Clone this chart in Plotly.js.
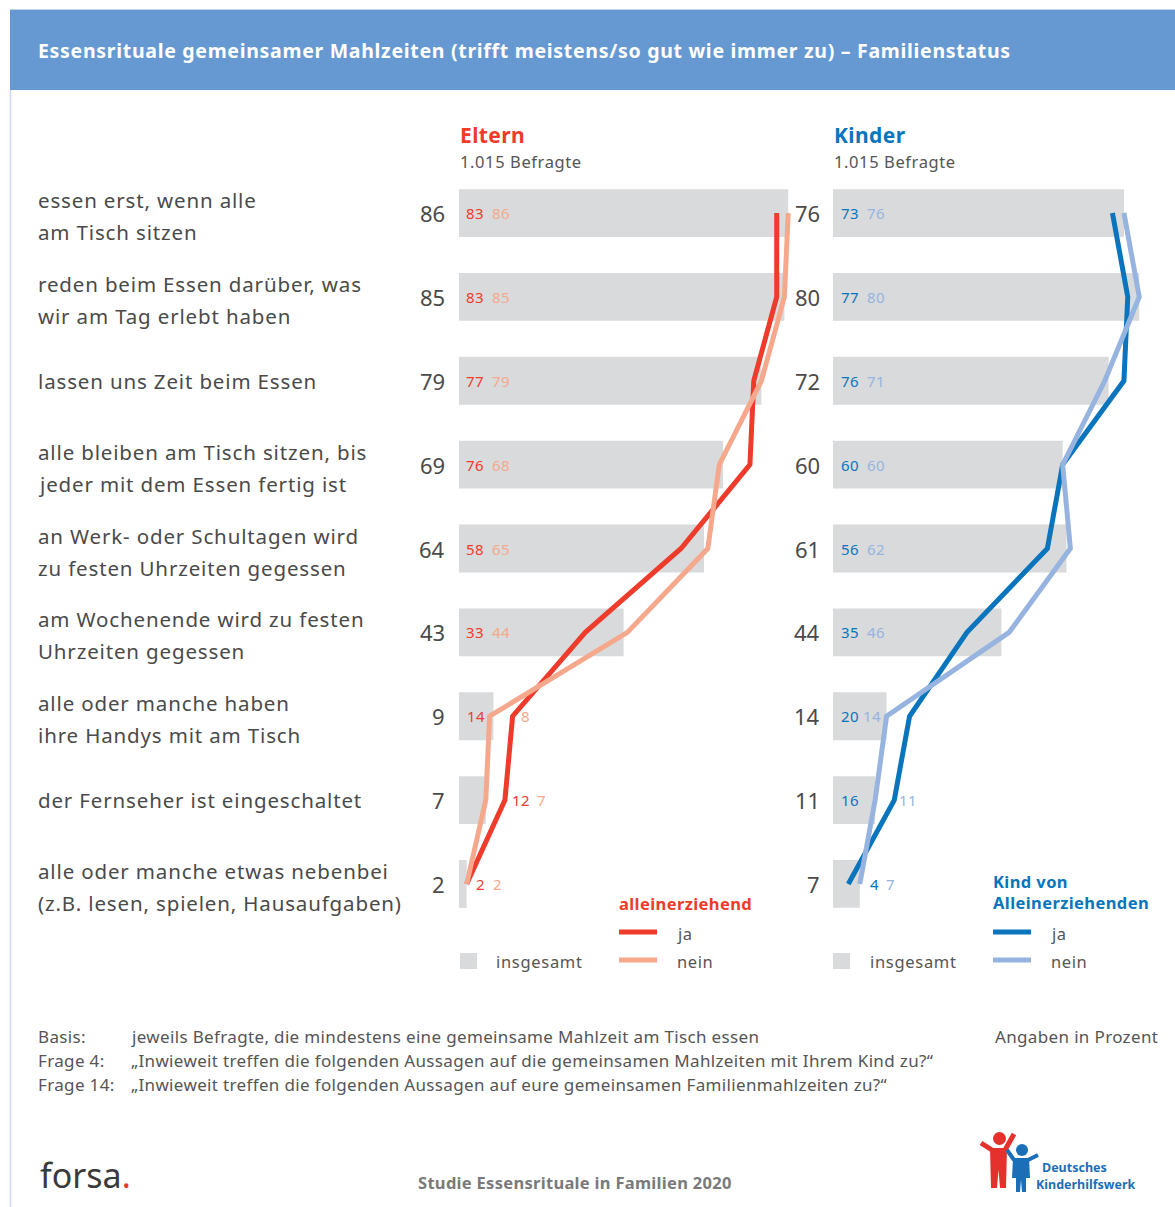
<!DOCTYPE html>
<html><head><meta charset="utf-8">
<script src="https://cdn.plot.ly/plotly-3.0.1.min.js"></script>
<style>html,body{margin:0;padding:0;background:#fff}#chart{width:1175px;height:1207px}</style>
</head><body><div id="chart"></div>
<script>
const categories = [
  "essen erst, wenn alle\nam Tisch sitzen",
  "reden beim Essen darüber, was\nwir am Tag erlebt haben",
  "lassen uns Zeit beim Essen",
  "alle bleiben am Tisch sitzen, bis\njeder mit dem Essen fertig ist",
  "an Werk- oder Schultagen wird\nzu festen Uhrzeiten gegessen",
  "am Wochenende wird zu festen\nUhrzeiten gegessen",
  "alle oder manche haben\nihre Handys mit am Tisch",
  "der Fernseher ist eingeschaltet",
  "alle oder manche etwas nebenbei\n(z.B. lesen, spielen, Hausaufgaben)"
];
const elternTotal = [86, 85, 79, 69, 64, 43, 9, 7, 2];
const elternJa    = [83, 83, 77, 76, 58, 33, 14, 12, 2];
const elternNein  = [86, 85, 79, 68, 65, 44, 8, 7, 2];
const kinderTotal = [76, 80, 72, 60, 61, 44, 14, 11, 7];
const kinderJa    = [73, 77, 76, 60, 56, 35, 20, 16, 4];
const kinderNein  = [76, 80, 71, 60, 62, 46, 14, 11, 7];

// layout-only: pixel offsets of value labels from panel start [ja, nein]
const elternLabelOffsets = [[7,33],[7,33],[7,33],[7,33],[7,33],[7,33],[8,62],[53,78],[17,34]];
const kinderLabelOffsets = [[8,34],[8,34],[8,34],[8,34],[8,34],[8,34],[8,30],[8,66],[37,53]];

const W = 1175, H = 1207;
const px = x => x / W;
const py = y => 1 - y / H;
const FONT = "Noto Sans, Open Sans, sans-serif";
const GREY = "#d9dadb";
const TXT = "#4a4a4a";
const RED = "#ee3b2b", SALMON = "#f6a88c", BLUE = "#0a75bd", LBLUE = "#96b4df";

const rowTop = 171.1, rowBottom = 925.9;
const E0 = 459, K0 = 833, SCALE = 3.828, XMAX = 88;

const traces = [
  {type:'bar', orientation:'h', x: elternTotal, y: categories, xaxis:'x', yaxis:'y',
   marker:{color:GREY}, width:0.57, hoverinfo:'skip'},
  {type:'scatter', mode:'lines', x: elternJa, y: categories, xaxis:'x', yaxis:'y',
   line:{color:RED, width:5}, hoverinfo:'skip'},
  {type:'scatter', mode:'lines', x: elternNein, y: categories, xaxis:'x', yaxis:'y',
   line:{color:SALMON, width:5}, hoverinfo:'skip'},
  {type:'bar', orientation:'h', x: kinderTotal, y: categories, xaxis:'x2', yaxis:'y',
   marker:{color:GREY}, width:0.57, hoverinfo:'skip'},
  {type:'scatter', mode:'lines', x: kinderJa, y: categories, xaxis:'x2', yaxis:'y',
   line:{color:BLUE, width:5}, hoverinfo:'skip'},
  {type:'scatter', mode:'lines', x: kinderNein, y: categories, xaxis:'x2', yaxis:'y',
   line:{color:LBLUE, width:5}, hoverinfo:'skip'}
];

const ann = [];
const shapes = [];
function sp(text, ls) { return `<span style="letter-spacing:${ls}px">${text}</span>`; }
function txt(x, y, text, opts) {
  const o = Object.assign({xref:'paper', yref:'paper', y:py(y), text:text,
    showarrow:false, xanchor:'left', yanchor:'middle', borderpad:0,
    font:{family:FONT, size:16, color:TXT}}, opts || {});
  const shift = o.xanchor === 'left' ? -1 : (o.xanchor === 'right' ? 1 : 0);
  o.x = px(x + shift);
  ann.push(o);
}

// header
shapes.push({type:'rect', xref:'paper', yref:'paper', x0:px(10), x1:px(1175), y0:py(90), y1:py(10),
  fillcolor:'#6699d1', line:{width:0}, layer:'below'});
shapes.push({type:'line', xref:'paper', yref:'paper', x0:px(10), x1:px(1175), y0:py(9.5), y1:py(9.5),
  line:{color:'#c5d3ea', width:1}});
shapes.push({type:'line', xref:'paper', yref:'paper', x0:px(10.5), x1:px(10.5), y0:py(90), y1:py(1207),
  line:{color:'#cfd5ea', width:1.5}});
txt(38, 51, "<b>" + sp("Essensrituale gemeinsamer Mahlzeiten (trifft meistens/so gut wie immer zu) – Familienstatus", 0.7) + "</b>",
  {font:{family:FONT, size:19.5, color:'#ffffff'}});

// panel titles
txt(460, 135, "<b>" + sp("Eltern", 0.4) + "</b>", {font:{family:FONT, size:21, color:RED}});
txt(460, 161, sp("1.015 Befragte", 0.6), {font:{family:FONT, size:16.5, color:'#555'}});
txt(834, 135, "<b>" + sp("Kinder", 0.4) + "</b>", {font:{family:FONT, size:21, color:BLUE}});
txt(834, 161, sp("1.015 Befragte", 0.6), {font:{family:FONT, size:16.5, color:'#555'}});

// row labels
const VALF = 15;
categories.forEach((c, i) => {
  const yc = 213 + i * 83.875;
  const lines = c.split("\n");
  lines.forEach((l, j) => {
    const y = lines.length === 1 ? yc : yc - 13 + j * 32;
    txt(38, y, sp(l, 0.85), {font:{family:FONT, size:20.5, color:TXT}});
  });
  txt(445, yc, String(elternTotal[i]), {xanchor:'right', font:{family:FONT, size:22, color:TXT}});
  txt(820, yc, String(kinderTotal[i]), {xanchor:'right', font:{family:FONT, size:22, color:TXT}});
  txt(E0 + elternLabelOffsets[i][0], yc, sp(String(elternJa[i]), 0.5), {font:{family:FONT, size:VALF, color:RED}});
  txt(E0 + elternLabelOffsets[i][1], yc, sp(String(elternNein[i]), 0.5), {font:{family:FONT, size:VALF, color:SALMON}});
  txt(K0 + kinderLabelOffsets[i][0], yc, sp(String(kinderJa[i]), 0.5), {font:{family:FONT, size:VALF, color:BLUE}});
  txt(K0 + kinderLabelOffsets[i][1], yc, sp(String(kinderNein[i]), 0.5), {font:{family:FONT, size:VALF, color:LBLUE}});
});

// legends
function legLine(x, y, color) {
  shapes.push({type:'line', xref:'paper', yref:'paper', x0:px(x), x1:px(x+38), y0:py(y), y1:py(y),
    line:{color:color, width:5}});
}
function legSquare(x, y) {
  shapes.push({type:'rect', xref:'paper', yref:'paper', x0:px(x), x1:px(x+17), y0:py(y+8), y1:py(y-8),
    fillcolor:GREY, line:{width:0}});
}
const LEGF = {family:FONT, size:16.5, color:'#555'};
txt(619, 903, "<b>" + sp("alleinerziehend", 0.4) + "</b>", {font:{family:FONT, size:16.5, color:RED}});
legLine(619, 932, RED); txt(677, 933, sp("ja", 0.6), {font:LEGF});
legLine(619, 960, SALMON); txt(677, 961, sp("nein", 0.6), {font:LEGF});
legSquare(460, 961); txt(496, 961, sp("insgesamt", 0.7), {font:LEGF});

txt(993, 881, "<b>" + sp("Kind von", 0.4) + "</b>", {font:{family:FONT, size:16.5, color:BLUE}});
txt(993, 902, "<b>" + sp("Alleinerziehenden", 0.4) + "</b>", {font:{family:FONT, size:16.5, color:BLUE}});
legLine(993, 932, BLUE); txt(1051, 933, sp("ja", 0.6), {font:LEGF});
legLine(993, 960, LBLUE); txt(1051, 961, sp("nein", 0.6), {font:LEGF});
legSquare(833, 961); txt(870, 961, sp("insgesamt", 0.7), {font:LEGF});

// footer notes
const NOTE = {family:FONT, size:17, color:'#555'};
const NLS = 0.35;
txt(38, 1036, sp("Basis:", NLS), {font:NOTE});
txt(131, 1036, sp("jeweils Befragte, die mindestens eine gemeinsame Mahlzeit am Tisch essen", NLS), {font:NOTE});
txt(1158, 1036, sp("Angaben in Prozent", NLS), {xanchor:'right', font:NOTE});
txt(38, 1060, sp("Frage 4:", NLS), {font:NOTE});
txt(131, 1060, sp("„Inwieweit treffen die folgenden Aussagen auf die gemeinsamen Mahlzeiten mit Ihrem Kind zu?“", NLS), {font:NOTE});
txt(38, 1084, sp("Frage 14:", NLS), {font:NOTE});
txt(131, 1084, sp("„Inwieweit treffen die folgenden Aussagen auf eure gemeinsamen Familienmahlzeiten zu?“", NLS), {font:NOTE});

txt(575, 1182, "<b>" + sp("Studie Essensrituale in Familien 2020", 0.3) + "</b>", {xanchor:'center', font:{family:FONT, size:16.5, color:'#7a7a7a'}});
txt(40, 1175, "forsa<span style='color:#e8392b'>.</span>", {font:{family:"Liberation Sans Narrow, Noto Sans, sans-serif", size:34, color:'#3a3a3a'}});

// DKHW logo (simplified)
const LR = '#e5312b', LB = '#1a6fb8';
shapes.push({type:'circle', xref:'paper', yref:'paper', x0:px(993), x1:px(1006), y0:py(1145), y1:py(1132), fillcolor:LR, line:{width:0}});
shapes.push({type:'path', xref:'paper', yref:'paper', path:`M ${px(990)} ${py(1148)} L ${px(1007)} ${py(1148)} L ${px(1006)} ${py(1188)} L ${px(1000)} ${py(1188)} L ${px(998.5)} ${py(1170)} L ${px(997)} ${py(1188)} L ${px(991)} ${py(1188)} Z`, fillcolor:LR, line:{width:0}});
shapes.push({type:'line', xref:'paper', yref:'paper', x0:px(992), x1:px(981), y0:py(1150), y1:py(1143), line:{color:LR, width:5}});
shapes.push({type:'line', xref:'paper', yref:'paper', x0:px(1005), x1:px(1014), y0:py(1150), y1:py(1134), line:{color:LR, width:5}});
shapes.push({type:'circle', xref:'paper', yref:'paper', x0:px(1016), x1:px(1028), y0:py(1156), y1:py(1144), fillcolor:LB, line:{width:0}});
shapes.push({type:'path', xref:'paper', yref:'paper', path:`M ${px(1013)} ${py(1158)} L ${px(1029)} ${py(1158)} L ${px(1030)} ${py(1178)} L ${px(1026)} ${py(1178)} L ${px(1026)} ${py(1192)} L ${px(1022)} ${py(1192)} L ${px(1021)} ${py(1180)} L ${px(1020)} ${py(1192)} L ${px(1016)} ${py(1192)} L ${px(1016)} ${py(1178)} L ${px(1012)} ${py(1178)} Z`, fillcolor:LB, line:{width:0}});
shapes.push({type:'line', xref:'paper', yref:'paper', x0:px(1014), x1:px(1007), y0:py(1160), y1:py(1150), line:{color:LB, width:4}});
shapes.push({type:'line', xref:'paper', yref:'paper', x0:px(1028), x1:px(1038), y0:py(1160), y1:py(1155), line:{color:LB, width:4}});
const LOGOF = {family:"Liberation Sans Narrow, Noto Sans, sans-serif", size:12.5, color:LB};
txt(1042, 1167, "<b>Deutsches</b>", {font:LOGOF});
txt(1036, 1184, "<b>Kinderhilfswerk</b>", {font:LOGOF});

const layout = {
  width: W, height: H,
  margin:{l:0, r:0, t:0, b:0},
  paper_bgcolor:'#ffffff', plot_bgcolor:'rgba(0,0,0,0)',
  showlegend:false, barmode:'overlay',
  xaxis:{domain:[px(E0), px(E0 + XMAX*SCALE)], range:[0, XMAX], visible:false, fixedrange:true},
  xaxis2:{domain:[px(K0), px(K0 + XMAX*SCALE)], range:[0, XMAX], visible:false, fixedrange:true},
  yaxis:{domain:[py(rowBottom), py(rowTop)], type:'category', categoryorder:'array', categoryarray:categories,
    range:[8.5, -0.5], visible:false, fixedrange:true},
  annotations: ann, shapes: shapes
};
Plotly.newPlot('chart', traces, layout, {displayModeBar:false, staticPlot:true});
</script></body></html>
